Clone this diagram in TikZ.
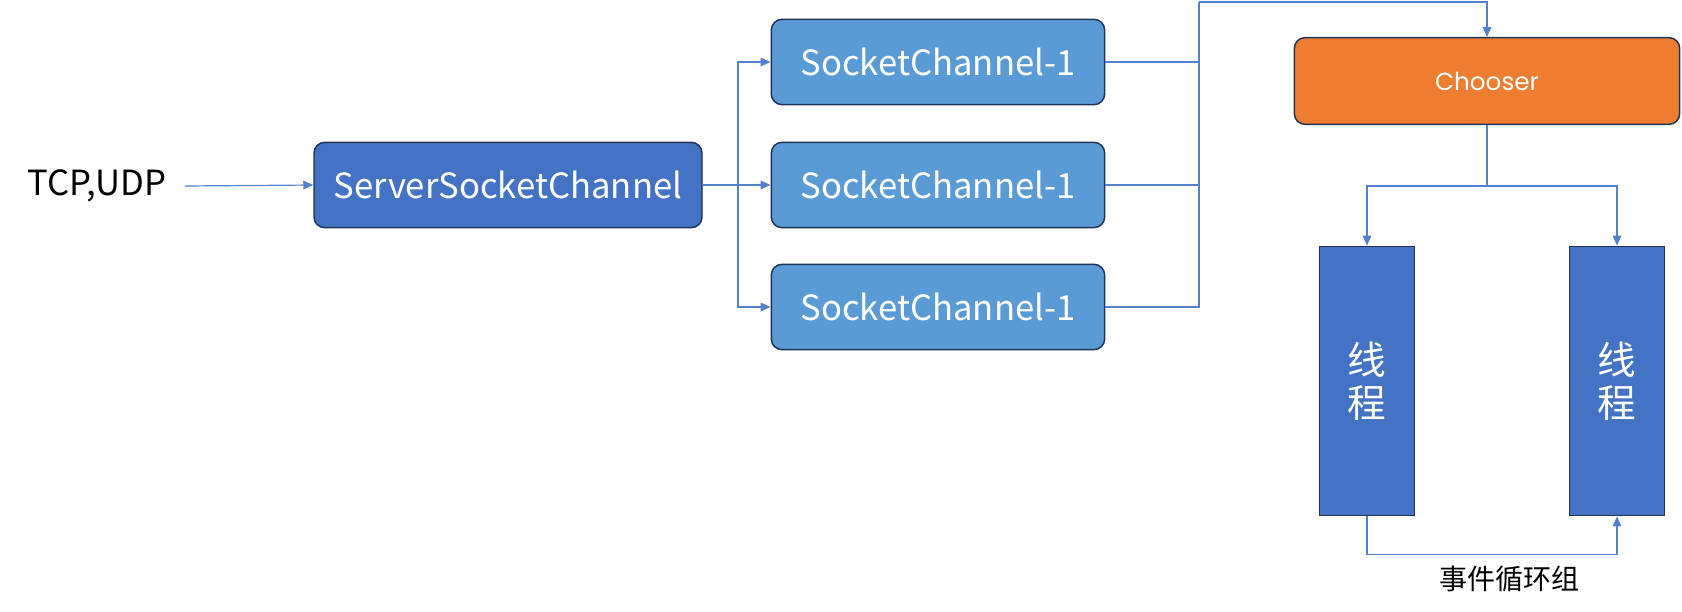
\documentclass[tikz,border=0pt]{standalone}
\usepackage{fontspec}
\setmainfont{Noto Sans CJK SC}
\newfontfamily\chooserfont{Poppins}
\usetikzlibrary{arrows.meta,positioning}
\definecolor{darkblue}{HTML}{4472C4}
\definecolor{lightblue}{HTML}{5B9BD5}
\definecolor{orange}{HTML}{ED7D31}
\definecolor{navy}{HTML}{1F3456}
\definecolor{wire}{HTML}{5580CC}
\tikzset{
  box/.style={draw=navy, line width=1.1pt, rounded corners=8pt, text=white, align=center, font=\fontsize{26}{30}\selectfont},
  thread/.style={draw=navy, line width=1.1pt, fill=darkblue, text=white, align=center, minimum width=71pt, minimum height=202pt, font=\fontsize{29}{32}\selectfont},
  line/.style={draw=wire, line width=0.9pt},
  arrow/.style={line, -{Triangle[length=7.5pt, width=6.5pt]}}
}

\begin{document}
\begin{tikzpicture}[x=0.75pt, y=-0.75pt]
    \useasboundingbox (0,0) rectangle (1682,611);

    \node[font=\fontsize{26}{30}\selectfont] (tcp) at (97,186) {TCP,UDP};
    \node[box, fill=darkblue, minimum width=291pt, minimum height=64pt] (server) at (508,185) {ServerSocketChannel};
    \node[box, fill=lightblue, minimum width=250pt, minimum height=64pt] (sc1) at (938,62) {SocketChannel-1};
    \node[box, fill=lightblue, minimum width=250pt, minimum height=64pt] (sc2) at (938,185) {SocketChannel-1};
    \node[box, fill=lightblue, minimum width=250pt, minimum height=64pt] (sc3) at (938,307) {SocketChannel-1};
    \node[box, fill=orange, minimum width=289pt, minimum height=65pt, font=\chooserfont\fontsize{18.5}{22}\selectfont] (chooser) at (1487,81) {Chooser};
    \node[thread] (t1) at (1367,381) {线\\程};
    \node[thread] (t2) at (1617,381) {线\\程};
    \node[font=\fontsize{21}{26}\selectfont] (group) at (1509,579) {事件循环组};

    \coordinate (fork) at (738,185);
    \coordinate (merge) at (1199,2);
    \coordinate (split) at (1487,186);

    \draw[arrow] (tcp) ++(88,0) -- (server.west);
    \draw[line] (server.east) -- (fork);
    \draw[arrow] (fork) |- (sc1.west);
    \draw[arrow] (fork) -- (sc2.west);
    \draw[arrow] (fork) |- (sc3.west);
    \draw[line] (sc1.east) -| (merge);
    \draw[line] (sc2.east) -| (merge);
    \draw[line] (sc3.east) -| (merge);
    \draw[arrow] (merge) -| (chooser.north);
    \draw[line] (chooser.south) -- (split);
    \draw[arrow] (split) -| (t1.north);
    \draw[arrow] (split) -| (t2.north);
    \draw[arrow] (t1.south) -- ++(0,38) -| (t2.south);
  \end{tikzpicture}
\end{document}
